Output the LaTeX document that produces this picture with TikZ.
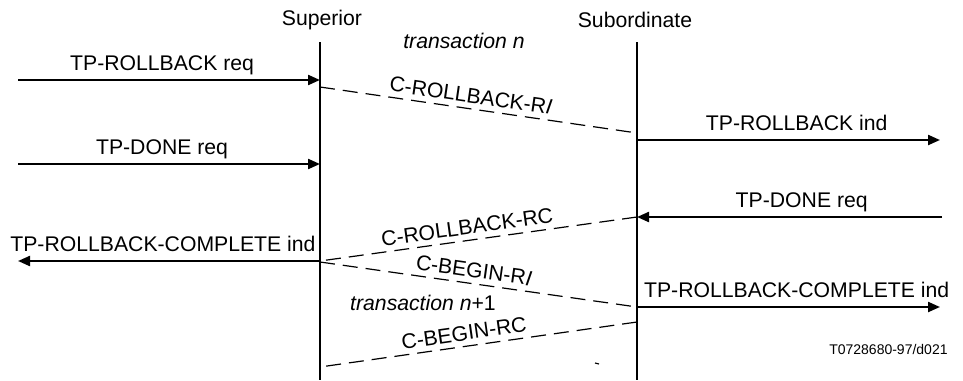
\documentclass[tikz,border=0pt]{standalone}
\usepackage{fontspec}
\setmainfont{Liberation Sans}
\usetikzlibrary{arrows.meta}
\begin{document}
\begin{tikzpicture}[x=0.5pt,y=-0.5pt,
  lbl/.style={font=\fontsize{10.6}{12}\selectfont, inner sep=0pt, anchor=base},
  msg/.style={line width=1.1pt, -{Triangle[length=6pt,width=5pt]}},
  sig/.style={line width=0.6pt, dash pattern=on 7.5pt off 4pt},
  life/.style={line width=1.1pt},
  slbl/.style={lbl, sloped, yshift=3pt}]
\useasboundingbox (0,0) rectangle (963,380);
% headers
\node[lbl, anchor=center] (sup) at (322,20) {Superior};
\node[lbl, anchor=center] (sub) at (635,20) {Subordinate};
% lifelines
\coordinate (supTop) at (320,42);
\coordinate (supBot) at (320,380);
\coordinate (subTop) at (637,42);
\coordinate (subBot) at (637,380);
\draw[life] (supTop) -- (supBot);
\draw[life] (subTop) -- (subBot);
% points
\coordinate (L1) at (18,80);   \coordinate (S1) at (320,80);
\coordinate (L2) at (18,164);  \coordinate (S2) at (320,164);
\coordinate (S3) at (320,87);  \coordinate (B3) at (637,133);
\coordinate (B4) at (637,140); \coordinate (R4) at (940,140);
\coordinate (R5) at (942,217); \coordinate (B5) at (637,217);
\coordinate (S6) at (320,261); \coordinate (L6) at (18,261);
\coordinate (S7) at (320,262); \coordinate (B7) at (637,307);
\coordinate (B8) at (637,307); \coordinate (R8) at (940,307);
\coordinate (B9) at (637,322); \coordinate (S9) at (320,367);
% messages
\draw[msg] (L1) -- node[lbl, pos=0.477, yshift=5pt] {TP-ROLLBACK req} (S1);
\draw[msg] (L2) -- node[lbl, pos=0.477, yshift=5pt] {TP-DONE req} (S2);
\draw[sig] (S3) -- node[slbl, pos=0.47] {C-ROLLBACK-R\textit{I}} (B3);
\draw[msg] (B4) -- node[lbl, pos=0.527, yshift=5pt] {TP-ROLLBACK ind} (R4);
\draw[msg] (R5) -- node[lbl, pos=0.46, yshift=5pt] {TP-DONE req} (B5);
\draw[sig] (B5) -- node[slbl, pos=0.53] {C-ROLLBACK-RC} (S6);
\draw[msg] (S6) -- node[lbl, pos=0.52, yshift=5pt] {TP-ROLLBACK-COMPLETE ind} (L6);
\draw[sig] (S7) -- node[slbl, pos=0.48] {C-BEGIN-R\textit{I}} (B7);
\draw[msg] (B8) -- node[lbl, pos=0.527, yshift=5pt] {TP-ROLLBACK-COMPLETE ind} (R8);
\draw[sig] (B9) -- node[slbl, pos=0.54] {C-BEGIN-RC} (S9);
% annotations
\node[lbl, anchor=center] (tn) at (464,41) {\textit{transaction n}};
\node[lbl, anchor=center] (tn1) at (423,303) {\textit{transaction n}+1};
\node[font=\fontsize{7}{8}\selectfont, inner sep=0pt, anchor=east] (ref) at (948,349) {T0728680-97/d021};
\coordinate (m1) at (595,363); \coordinate (m2) at (599,364);
\draw[line width=0.6pt] (m1) -- (m2);
\end{tikzpicture}
\end{document}
